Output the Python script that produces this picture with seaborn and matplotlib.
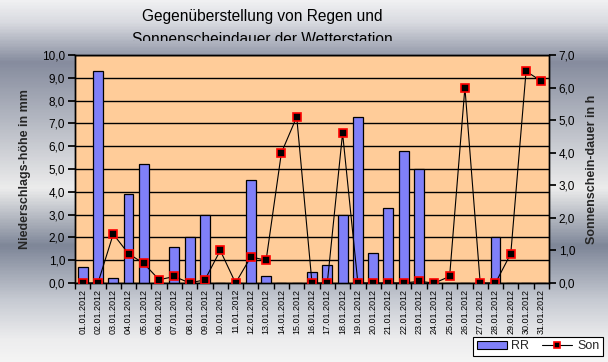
import numpy as np
import pandas as pd
import matplotlib
matplotlib.use("Agg")
import matplotlib.pyplot as plt
from matplotlib.colors import LinearSegmentedColormap
from matplotlib.ticker import FuncFormatter, MultipleLocator, FixedLocator
from matplotlib.transforms import Bbox, TransformedBbox
from matplotlib.lines import Line2D
from matplotlib.patches import Patch
import seaborn as sns

dates = ["%02d.01.2012" % d for d in range(1, 32)]
rr = [0.7, 9.3, 0.2, 3.9, 5.2, 0.0, 1.6, 2.0, 3.0, 0.0, 0.0, 4.5, 0.3, 0.0, 0.0,
      0.5, 0.8, 3.0, 7.3, 1.3, 3.3, 5.8, 5.0, 0.0, 0.0, 0.0, 0.0, 2.0, 0.0, 0.0, 0.0]
son = [0.0, 0.0, 1.5, 0.9, 0.6, 0.1, 0.2, 0.0, 0.1, 1.0, 0.0, 0.8, 0.7, 4.0, 5.1,
       0.0, 0.0, 4.6, 0.0, 0.0, 0.0, 0.0, 0.05, 0.0, 0.2, 6.0, 0.0, 0.0, 0.9, 6.5, 6.2]

title = "Gegenüberstellung von Regen und\nSonnenscheindauer der Wetterstation"
ylabel_left = "Niederschlags-höhe in mm"
ylabel_right = "Sonnenschein-dauer in h"

sns.set_theme(style="white")
plt.rcParams["font.family"] = ["Liberation Sans", "DejaVu Sans"]

fig = plt.figure(figsize=(6.08, 3.62), dpi=100)

# gradient background
bg = fig.add_axes([0, 0, 1, 1], zorder=-10)
stops = [(0.0, "#f0f0f2"), (0.06, "#d8dae0"), (0.17, "#868c9e"), (0.33, "#b4b8c2"),
         (0.52, "#ececec"), (0.68, "#7e8698"), (0.83, "#c6cad2"), (0.94, "#ededee"),
         (1.0, "#f4f4f4")]
cmap = LinearSegmentedColormap.from_list("bg", stops)
grad = np.linspace(0, 1, 362).reshape(-1, 1)
bg.imshow(grad, aspect="auto", cmap=cmap, extent=[0, 1, 0, 1], origin="upper")
bg.set_axis_off()

ax = fig.add_axes([75 / 608, 79 / 362, 474 / 608, 228 / 362])
ax.set_facecolor("#ffcc99")
df = pd.DataFrame({"date": dates, "RR": rr, "Son": son})
sns.barplot(data=df, x="date", y="RR", ax=ax, color="#8080f8", saturation=1,
            width=0.65, edgecolor="black", linewidth=0.9, zorder=3)
ax.set_xlim(-0.5, len(dates) - 0.5)
ax.set_ylim(0, 10)
ax.yaxis.set_major_locator(MultipleLocator(1))
ax.yaxis.set_major_formatter(FuncFormatter(lambda v, p: ("%.1f" % v).replace(".", ",")))
ax.grid(axis="y", color="black", linewidth=1, zorder=1)
ax.set_axisbelow(True)
ax.set_xlabel("")
ax.set_ylabel(ylabel_left, fontsize=9, fontweight="bold", labelpad=8)
ax.set_xticks(range(len(dates)))
ax.set_xticklabels(dates, rotation=90, fontsize=6.5)
ax.xaxis.set_minor_locator(FixedLocator(np.arange(-0.5, len(dates), 1)))
ax.tick_params(axis="x", which="major", length=0, pad=4, colors="black")
ax.tick_params(axis="x", which="minor", length=4, direction="out", color="black", bottom=True)
ax.tick_params(axis="y", length=5, direction="out", labelsize=8.5, colors="black", left=True, pad=2)
for s in ax.spines.values():
    s.set_color("black")
    s.set_linewidth(1)

ax2 = ax.twinx()
sns.lineplot(x=np.arange(len(son)), y=son, ax=ax2, color="black", linewidth=0.8,
             marker="s", markersize=5.5, markerfacecolor="black", markeredgecolor="red",
             markeredgewidth=1.2, zorder=5)
ax2.set_ylim(0, 7)
ax2.yaxis.set_major_locator(MultipleLocator(1))
ax2.yaxis.set_major_formatter(FuncFormatter(lambda v, p: ("%.1f" % v).replace(".", ",")))
ax2.set_ylabel(ylabel_right, fontsize=9, fontweight="bold", labelpad=8)
ax2.tick_params(axis="y", length=5, direction="out", labelsize=8.5, colors="black", right=True, pad=2)
ax2.grid(False)
for s in ax2.spines.values():
    s.set_color("black")
    s.set_linewidth(1)

t = fig.text(262 / 608, 1 - 9 / 362, title, ha="center", va="top", fontsize=11.2,
             linespacing=1.7, color="black")
clip = TransformedBbox(Bbox([[0, (362 - 41) / 362], [1, 1]]), fig.transFigure)
t.set_clip_box(clip)
t.set_clip_on(True)

handles = [Patch(facecolor="#8080f8", edgecolor="black", linewidth=0.8),
           Line2D([0], [0], color="black", lw=0.8, marker="s", markersize=5,
                  markerfacecolor="black", markeredgecolor="red", markeredgewidth=1.2)]
leg = fig.legend(handles, ["RR", "Son"], ncol=2, loc="lower right",
                 bbox_to_anchor=(603 / 608, 6 / 362), frameon=True, fontsize=9,
                 fancybox=False, borderpad=0.3, handlelength=2.4, columnspacing=1.0,
                 handletextpad=0.4, borderaxespad=0)
leg.get_frame().set_edgecolor("black")
leg.get_frame().set_linewidth(0.8)
leg.get_frame().set_facecolor("white")
leg.get_frame().set_alpha(1)

fig.savefig("out.png", dpi=100)
